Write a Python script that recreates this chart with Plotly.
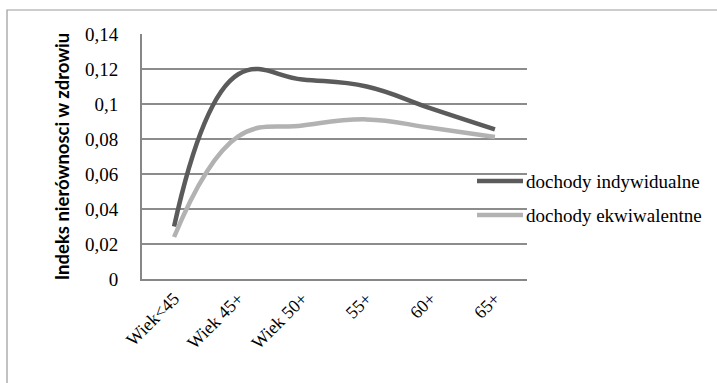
import plotly.graph_objects as go

# Age groups and the health-inequality index for two income definitions
categories = ["Wiek<45", "Wiek 45+", "Wiek 50+", "55+", "60+", "65+"]
individual_income = [0.030, 0.117, 0.114, 0.110, 0.0975, 0.0855]
equivalent_income = [0.024, 0.0815, 0.0877, 0.0912, 0.0864, 0.0812]
series_names = ["dochody indywidualne", "dochody ekwiwalentne"]
y_ticks = [0, 0.02, 0.04, 0.06, 0.08, 0.10, 0.12, 0.14]
y_tick_text = ["0", "0,02", "0,04", "0,06", "0,08", "0,1", "0,12", "0,14"]

W, H = 717, 383
L, R, T, B = 142, 190, 34, 104

dark, light = "#5b5b5b", "#b2b2b2"
serif = "Liberation Serif"

fig = go.Figure()
for vals, name, col in [(individual_income, series_names[0], dark),
                        (equivalent_income, series_names[1], light)]:
    fig.add_trace(go.Scatter(
        x=categories, y=vals, name=name, mode="lines",
        line=dict(color=col, width=4.5, shape="spline", smoothing=1.2),
        showlegend=False,
    ))

def px_x(p):
    return (p - L) / (W - L - R)

def px_y(p):
    return (H - B - p) / (H - T - B)

shapes = [
    # outer chart frame
    dict(type="rect", xref="paper", yref="paper",
         x0=px_x(7), y0=px_y(395), x1=px_x(730), y1=px_y(10),
         line=dict(color="#9a9a9a", width=1.2), layer="below"),
]
annotations = []
for i, (name, col) in enumerate(zip(series_names, [dark, light])):
    yy = px_y(181 + i * 34)
    shapes.append(dict(type="line", xref="paper", yref="paper",
                       x0=px_x(477), x1=px_x(523), y0=yy, y1=yy,
                       line=dict(color=col, width=4.5)))
    annotations.append(dict(xref="paper", yref="paper", x=px_x(524), y=yy,
                            text=name, showarrow=False, xanchor="left",
                            yanchor="middle",
                            font=dict(family=serif, size=19, color="#000")))

fig.update_layout(
    width=W, height=H, autosize=False,
    margin=dict(l=L, r=R, t=T, b=B),
    paper_bgcolor="white", plot_bgcolor="white",
    shapes=shapes, annotations=annotations,
    font=dict(family=serif, color="#000"),
    xaxis=dict(
        type="category", range=[-0.5, 5.5], showgrid=False,
        showline=True, linecolor="#878787", linewidth=2,
        tickangle=-45, tickfont=dict(family=serif, size=18, color="#000"),
        ticks="", zeroline=False,
    ),
    yaxis=dict(
        range=[0, 0.14], tickvals=y_ticks, ticktext=y_tick_text,
        showgrid=True, gridcolor="#8c8c8c", gridwidth=1.5,
        showline=True, linecolor="#878787", linewidth=2,
        ticks="", ticklabelstandoff=18, zeroline=False,
        tickfont=dict(family=serif, size=19, color="#000"),
        title=dict(text="Indeks nierównosci w zdrowiu", standoff=10,
                   font=dict(family="Lato", size=18.5,
                             color="#000", weight="bold")),
    ),
)

fig.write_html("out.html")
